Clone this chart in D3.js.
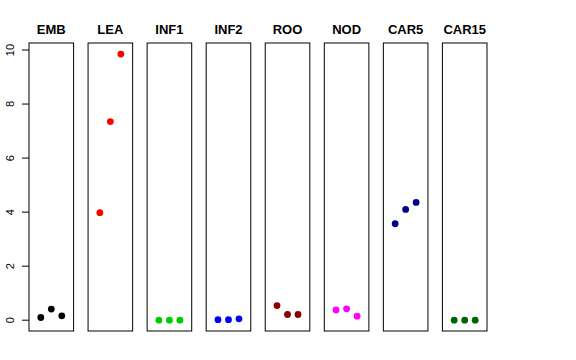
<!DOCTYPE html>
<html><head><meta charset="utf-8">
<script src="https://cdn.jsdelivr.net/npm/d3@7"></script>
<style>body{margin:0;background:#fff}svg{display:block}</style>
</head><body>
<script>
const categories = ["EMB","LEA","INF1","INF2","ROO","NOD","CAR5","CAR15"];
const colors = ["#000000","#ff0000","#00cd00","#0000ff","#8b0000","#ff00ff","#00008b","#006400"];
const values = [
  [0.10, 0.41, 0.16],
  [3.98, 7.35, 9.85],
  [0.00, 0.00, 0.00],
  [0.02, 0.02, 0.05],
  [0.54, 0.21, 0.21],
  [0.38, 0.42, 0.15],
  [3.57, 4.10, 4.36],
  [0.00, 0.00, 0.00]
];
const yTicks = [0, 2, 4, 6, 8, 10];

const W = 576, H = 360;
const svg = d3.select("body").append("svg").attr("width", W).attr("height", H);
const pTop = 43, pBottom = 331;
const y = d3.scaleLinear().domain([-0.40, 10.26]).range([pBottom, pTop]);
const panelX = d3.scaleBand().domain(categories).range([29, 487]).paddingInner(0.245).paddingOuter(0);
const rep = d3.scalePoint().domain([0,1,2]).range([-10.5, 10.5]);

// y axis ticks
const axis = svg.append("g").attr("font-family","Liberation Sans, Arial, sans-serif").attr("font-size",11);
yTicks.forEach(t => {
  axis.append("line").attr("x1",22).attr("x2",29).attr("y1",y(t)).attr("y2",y(t)).attr("stroke","#000");
  axis.append("text").attr("transform",`translate(14,${y(t)}) rotate(-90)`).attr("text-anchor","middle").text(t);
});

categories.forEach((c, i) => {
  const x0 = panelX(c), bw = panelX.bandwidth(), cx = x0 + bw/2;
  const g = svg.append("g");
  g.append("rect").attr("x", x0).attr("y", pTop).attr("width", bw).attr("height", pBottom-pTop)
    .attr("fill","none").attr("stroke","#000").attr("stroke-width",1);
  g.append("text").attr("x", cx).attr("y", 34).attr("text-anchor","middle")
    .attr("font-family","Liberation Sans, Arial, sans-serif").attr("font-weight","bold").attr("font-size",13)
    .text(c);
  g.selectAll("circle").data(values[i]).join("circle")
    .attr("cx", (d,j) => cx + rep(j)).attr("cy", d => y(d)).attr("r", 3.4).attr("fill", colors[i]);
});
</script>
</body></html>
